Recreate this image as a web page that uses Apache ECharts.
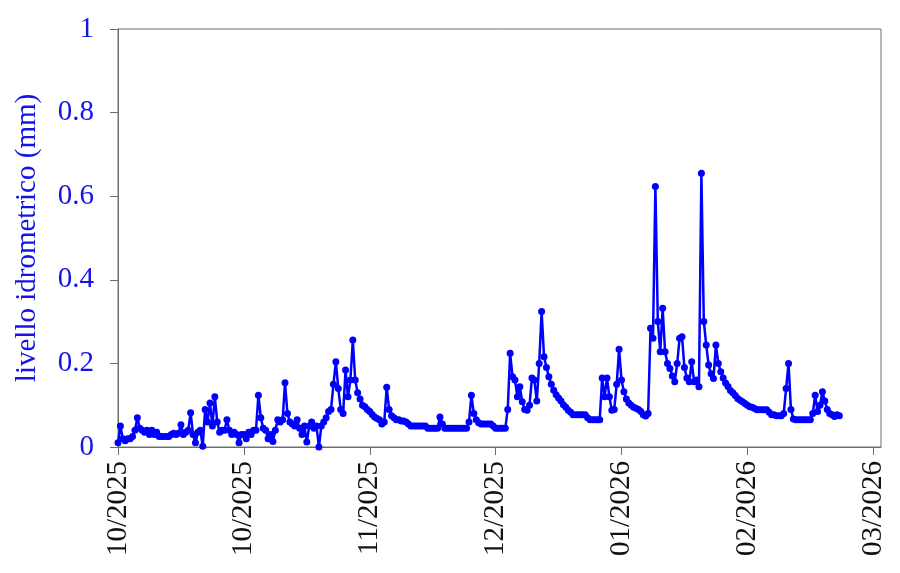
<!DOCTYPE html>
<html>
<head>
<meta charset="utf-8">
<script src="https://cdn.jsdelivr.net/npm/echarts@6/dist/echarts.min.js"></script>
<style>
html,body{margin:0;padding:0;background:#fff;}
#chart{width:900px;height:573px;}
</style>
</head>
<body>
<div id="chart"></div>
<script>
// Days since 2025-10-01, sampled every half day
const stepDays = 0.5;
const levels = [
0.01,0.05, 0.02,0.015, 0.02,0.02, 0.025,0.04, 0.07,0.045,
0.04,0.035, 0.04,0.03, 0.04,0.03, 0.035,0.025, 0.025,0.025,
0.025,0.025, 0.03,0.033, 0.03,0.033, 0.053,0.03, 0.035,0.04,
0.082,0.03, 0.01,0.035, 0.04,0.002, 0.09,0.06, 0.105,0.05,
0.12,0.06, 0.035,0.04, 0.04,0.065, 0.04,0.03, 0.035,0.03,
0.01,0.03, 0.03,0.02, 0.035,0.03, 0.04,0.04, 0.124,0.07,
0.045,0.04, 0.02,0.03, 0.013,0.04, 0.065,0.06, 0.065,0.154,
0.08,0.06, 0.055,0.05, 0.065,0.045, 0.03,0.05, 0.012,0.05,
0.06,0.045, 0.05,0.0, 0.05,0.06, 0.07,0.085, 0.09,0.15,
0.204,0.14, 0.09,0.08, 0.184,0.12, 0.16,0.256, 0.16,0.13,
0.115,0.1, 0.096,0.09, 0.085,0.078, 0.072,0.068, 0.065,0.055,
0.06,0.143, 0.09,0.075, 0.07,0.065, 0.065,0.062, 0.062,0.06,
0.055,0.05, 0.05,0.05, 0.05,0.05, 0.05,0.05, 0.045,0.045,
0.045,0.045, 0.045,0.072, 0.055,0.045, 0.045,0.045, 0.045,0.045,
0.045,0.045, 0.045,0.045, 0.045,0.06, 0.124,0.08, 0.065,0.058,
0.055,0.055, 0.055,0.055, 0.055,0.05, 0.045,0.045, 0.045,0.045,
0.045,0.09, 0.224,0.168, 0.16,0.12, 0.144,0.108, 0.09,0.088,
0.1,0.165, 0.16,0.11, 0.2,0.324, 0.216,0.19, 0.168,0.15,
0.136,0.125, 0.117,0.11, 0.101,0.095, 0.088,0.083, 0.077,0.077,
0.077,0.077, 0.077,0.077, 0.07,0.065, 0.065,0.065, 0.065,0.065,
0.165,0.12, 0.165,0.12, 0.088,0.09, 0.15,0.234, 0.16,0.132,
0.115,0.105, 0.1,0.095, 0.093,0.09, 0.085,0.077, 0.074,0.08,
0.284,0.26, 0.623,0.3, 0.228,0.332, 0.228,0.2, 0.188,0.17,
0.156,0.2, 0.26,0.264, 0.19,0.165, 0.156,0.204, 0.156,0.16,
0.144,0.655, 0.3,0.244, 0.196,0.175, 0.164,0.244, 0.2,0.18,
0.165,0.153, 0.145,0.135, 0.13,0.123, 0.116,0.112, 0.108,0.104,
0.1,0.096, 0.095,0.092, 0.089,0.089, 0.089,0.089, 0.089,0.083,
0.077,0.077, 0.075,0.075, 0.075,0.08, 0.14,0.2, 0.09,0.067,
0.065,0.065, 0.065,0.065, 0.065,0.065, 0.065,0.08, 0.124,0.085,
0.1,0.132, 0.11,0.09, 0.08,0.077, 0.073,0.077, 0.075
];
const tickDays = [0, 26, 52, 78, 104, 130, 156];
const tickLabels = ['10/2025','10/2025','11/2025','12/2025','01/2026','02/2026','03/2026'];
const yTicks = [0, 0.2, 0.4, 0.6, 0.8, 1];

const seriesData = levels.map((v, i) => [i * stepDays, v]);

const chart = echarts.init(document.getElementById('chart'), null, {renderer: 'canvas'});
const serif = '"Liberation Serif", "Times New Roman", serif';
const axisGray = '#6e6e6e';
chart.setOption({
  animation: false,
  backgroundColor: '#ffffff',
  grid: {
    left: 118, top: 29, right: 19, bottom: 126,
    show: true, borderColor: axisGray, borderWidth: 1, backgroundColor: 'transparent',
    containLabel: false, outerBoundsMode: 'none'
  },
  xAxis: {
    type: 'value', min: 0, max: 157.6,
    axisLine: {show: true, onZero: false, lineStyle: {color: axisGray, width: 1}},
    axisTick: {show: true, inside: false, length: 8, customValues: tickDays, lineStyle: {color: axisGray}},
    splitLine: {show: false},
    axisLabel: {
      customValues: tickDays, rotate: 90, margin: 14,
      fontFamily: serif, fontSize: 29, color: '#111111',
      formatter: function (val) {
        const idx = tickDays.indexOf(Math.round(val));
        return idx >= 0 ? tickLabels[idx] : '';
      }
    }
  },
  yAxis: {
    type: 'value', min: 0, max: 1, interval: 0.2,
    name: 'livello idrometrico (mm)', nameLocation: 'middle', nameGap: 76,
    nameTextStyle: {fontFamily: serif, fontSize: 29, color: '#1414e6'},
    axisLine: {show: true, lineStyle: {color: axisGray, width: 1}},
    axisTick: {show: true, inside: false, length: 8, lineStyle: {color: axisGray}},
    splitLine: {show: false},
    axisLabel: {
      margin: 24, fontFamily: serif, fontSize: 29, color: '#1414e6',
      showMaxLabel: true, showMinLabel: true,
      formatter: function (val) {
        const t = yTicks.find(y => Math.abs(y - val) < 1e-9);
        return t === undefined ? '' : String(t);
      }
    }
  },
  series: [{
    type: 'line',
    data: seriesData,
    symbol: 'circle',
    symbolSize: 7,
    showSymbol: true,
    showAllSymbol: true,
    lineStyle: {color: '#0000ff', width: 2.5},
    itemStyle: {color: '#0000ff', borderWidth: 0},
    emphasis: {disabled: true}
  }]
});
</script>
</body>
</html>
